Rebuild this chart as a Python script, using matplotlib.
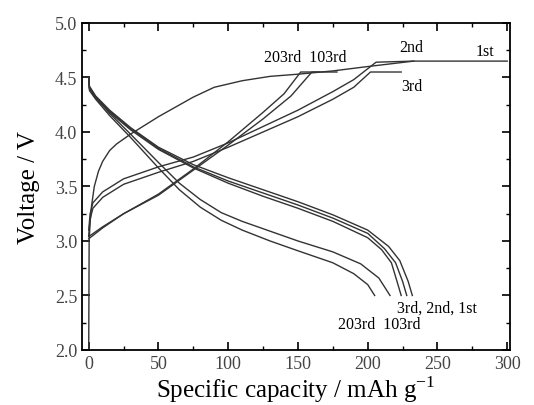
import numpy as np
import matplotlib.pyplot as plt
from matplotlib.ticker import MultipleLocator

plt.rcParams['font.family'] = ['Liberation Serif', 'DejaVu Serif']
plt.rcParams['mathtext.fontset'] = 'custom'
plt.rcParams['mathtext.rm'] = 'Liberation Serif'

# charge curves (capacity mAh/g, voltage V)
ch1_x = [0, 0.3, 1, 2, 4, 7, 10, 15, 20, 30, 50, 75, 90, 110, 130, 150, 175, 200, 233, 300]
ch1_v = [2.0, 3.0, 3.17, 3.32, 3.5, 3.64, 3.73, 3.83, 3.89, 3.98, 4.14, 4.32, 4.41, 4.47, 4.51, 4.53, 4.56, 4.6, 4.65, 4.65]
ch2_x = [0, 1, 3, 10, 25, 50, 75, 100, 125, 150, 175, 190, 206, 233]
ch2_v = [3.1, 3.25, 3.35, 3.45, 3.57, 3.68, 3.77, 3.9, 4.05, 4.2, 4.37, 4.48, 4.64, 4.65]
ch3_x = [0, 1, 3, 10, 25, 50, 75, 100, 125, 150, 175, 190, 202, 224]
ch3_v = [3.05, 3.2, 3.3, 3.4, 3.52, 3.63, 3.73, 3.86, 4.0, 4.14, 4.3, 4.41, 4.55, 4.55]
ch103_x = [0, 10, 25, 50, 75, 100, 125, 145, 160, 178]
ch103_v = [3.04, 3.13, 3.25, 3.42, 3.65, 3.88, 4.12, 4.33, 4.55, 4.55]
ch203_x = [0, 10, 25, 50, 75, 100, 125, 140, 152, 165]
ch203_v = [3.02, 3.12, 3.25, 3.43, 3.66, 3.91, 4.18, 4.35, 4.55, 4.55]

# discharge curves
dc1_x = [0, 0.5, 5, 15, 30, 50, 75, 100, 125, 150, 175, 200, 215, 223, 229, 232]
dc1_v = [4.5, 4.42, 4.33, 4.2, 4.04, 3.86, 3.7, 3.58, 3.47, 3.36, 3.24, 3.1, 2.95, 2.82, 2.63, 2.5]
dc2_x = [0, 0.5, 5, 15, 30, 50, 75, 100, 125, 150, 175, 200, 212, 220, 225, 228]
dc2_v = [4.5, 4.41, 4.32, 4.19, 4.03, 3.85, 3.68, 3.55, 3.44, 3.33, 3.21, 3.07, 2.93, 2.8, 2.63, 2.5]
dc3_x = [0, 0.5, 5, 15, 30, 50, 75, 100, 125, 150, 175, 200, 210, 217, 221, 224]
dc3_v = [4.5, 4.4, 4.31, 4.18, 4.02, 3.84, 3.67, 3.53, 3.41, 3.3, 3.18, 3.03, 2.92, 2.8, 2.63, 2.5]
dc103_x = [0, 0.5, 5, 15, 30, 50, 65, 80, 95, 110, 130, 150, 175, 195, 208, 216]
dc103_v = [4.5, 4.4, 4.32, 4.17, 3.98, 3.72, 3.53, 3.38, 3.26, 3.18, 3.09, 3.0, 2.9, 2.79, 2.66, 2.5]
dc203_x = [0, 0.5, 5, 15, 30, 50, 65, 80, 95, 110, 130, 150, 175, 190, 200, 205]
dc203_v = [4.5, 4.38, 4.3, 4.15, 3.95, 3.67, 3.47, 3.31, 3.19, 3.1, 3.0, 2.91, 2.8, 2.7, 2.6, 2.5]

fig = plt.figure(figsize=(5.34, 4.06), dpi=100)
ax = fig.add_axes([0.1536, 0.1355, 0.8014, 0.8055])

lc = '#333333'
for xs, vs in [(ch1_x, ch1_v), (ch2_x, ch2_v), (ch3_x, ch3_v), (ch103_x, ch103_v), (ch203_x, ch203_v),
               (dc1_x, dc1_v), (dc2_x, dc2_v), (dc3_x, dc3_v), (dc103_x, dc103_v), (dc203_x, dc203_v)]:
    ax.plot(xs, vs, color=lc, lw=1.0)

ax.set_xlim(-4.8, 302)
ax.set_ylim(2.0, 5.0)
ax.xaxis.set_major_locator(MultipleLocator(50))
ax.xaxis.set_minor_locator(MultipleLocator(25))
ax.yaxis.set_major_locator(MultipleLocator(0.5))
ax.yaxis.set_minor_locator(MultipleLocator(0.25))
ax.yaxis.set_major_formatter(plt.FuncFormatter(lambda v, p: '%.1f' % v))
ax.tick_params(which='both', direction='in', top=True, right=True, labelsize=13, labelcolor='#444444')
ax.tick_params(which='major', length=6, width=1.2)
ax.tick_params(which='minor', length=3, width=1.0)
for s in ax.spines.values():
    s.set_linewidth(1.3)

ax.set_xlabel('Specific capacity / mAh g$^{-1}$', fontsize=18, labelpad=1)
ax.set_ylabel('Voltage / V', fontsize=18, labelpad=11)

fs = 11.5
ax.text(155, 4.69, '203rd  103rd', fontsize=fs, ha='center', va='center')
ax.text(231, 4.78, '2nd', fontsize=fs, ha='center', va='center')
ax.text(284, 4.74, '1st', fontsize=fs, ha='center', va='center')
ax.text(232, 4.42, '3rd', fontsize=fs, ha='center', va='center')
ax.text(250, 2.39, '3rd, 2nd, 1st', fontsize=fs, ha='center', va='center')
ax.text(208, 2.24, '203rd  103rd', fontsize=fs, ha='center', va='center')

fig.savefig('out.png', dpi=100)
